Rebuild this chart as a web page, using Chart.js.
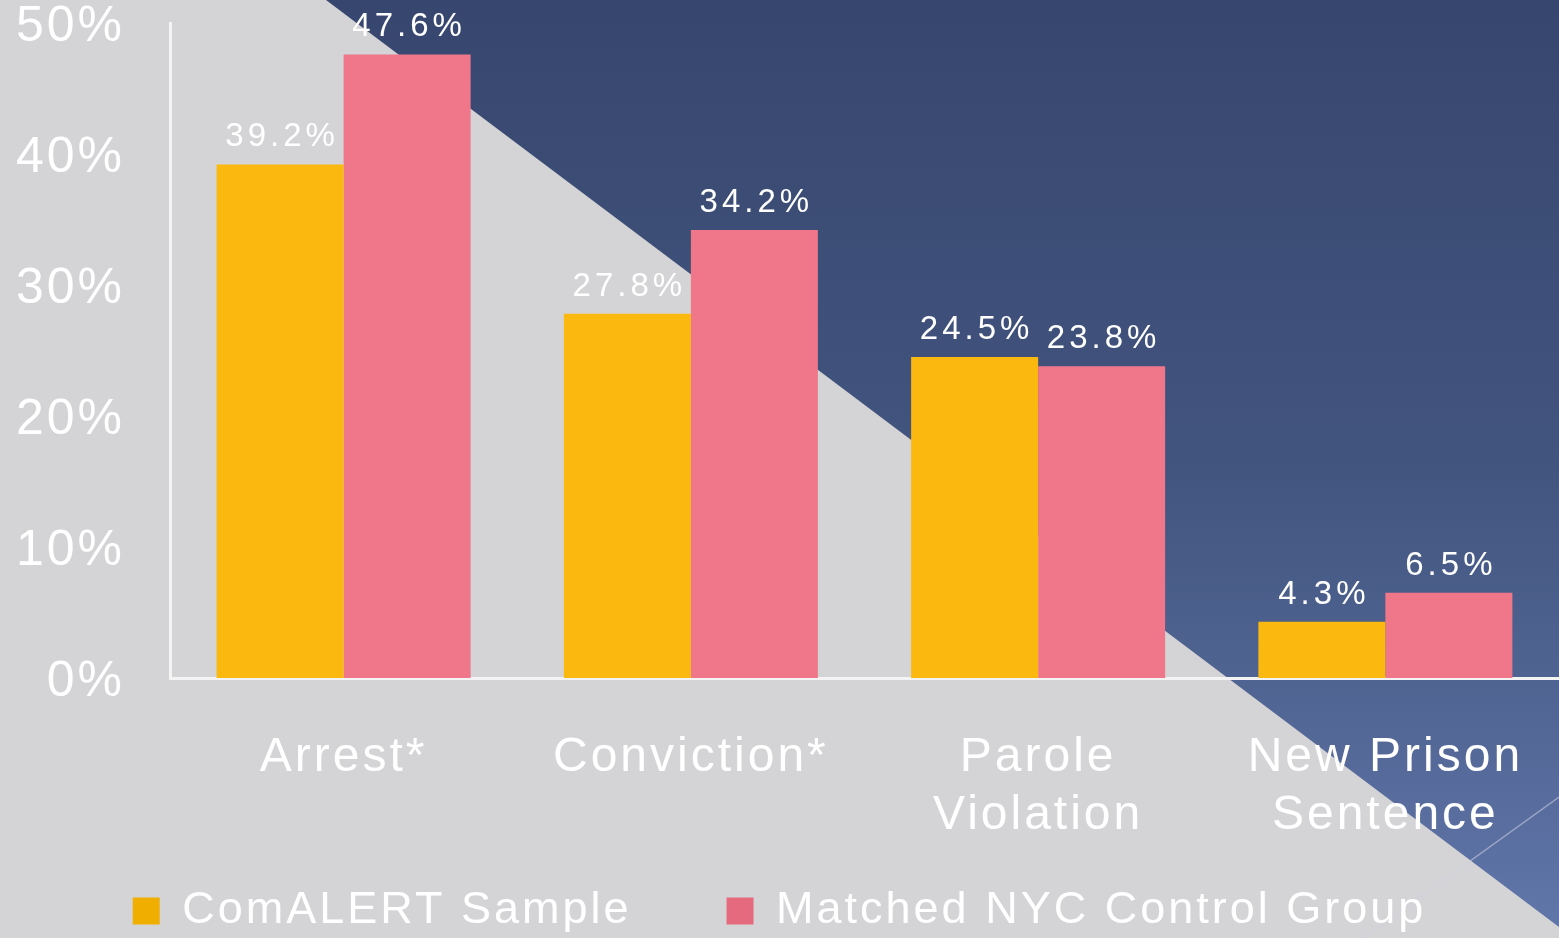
<!DOCTYPE html>
<html lang="en">
<head>
  <meta charset="UTF-8" />
  <title>ComALERT Recidivism Outcomes</title>
  <style>
    * { margin: 0; padding: 0; box-sizing: border-box; }
    body { background: #d4d4d6; overflow: hidden; }
    .chart-box { width: 1559px; height: 938px; position: relative; }
  </style>
</head>
<body>
  <div class="chart-box">
    <canvas id="outcomeChart"></canvas>
  </div>
  <script src="https://cdn.jsdelivr.net/npm/chart.js"></script>
  <script>
    // categories and values (percent)
    const categories = ["Arrest*", "Conviction*", ["Parole", "Violation"], ["New Prison", "Sentence"]];
    const comalertValues = [39.2, 27.8, 24.5, 4.3];
    const controlValues = [47.6, 34.2, 23.8, 6.5];
    const seriesNames = ["ComALERT Sample", "Matched NYC Control Group"];
    const yTicks = [0, 10, 20, 30, 40, 50];

    const FONT = "'Liberation Sans', Arial, sans-serif";
    const barColors = ["#fbb80e", "#f07789"];
    const legendColors = ["#f0ae00", "#e56a7e"];

    // slide background: grey with a navy diagonal wedge on the right
    const backdrop = {
      id: "backdrop",
      beforeUpdate(chart) { chart.ctx.letterSpacing = "3px"; },
      beforeDraw(chart) {
        const ctx = chart.ctx;
        const w = chart.width, h = chart.height;
        ctx.save();
        ctx.fillStyle = "#d4d4d6";
        ctx.fillRect(0, 0, w, h);
        const grad = ctx.createLinearGradient(0, 0, 0, h);
        grad.addColorStop(0, "#37466e");
        grad.addColorStop(0.5, "#42557f");
        grad.addColorStop(1, "#6176aa");
        ctx.fillStyle = grad;
        ctx.beginPath();
        ctx.moveTo(326, 0);
        ctx.lineTo(w, 0);
        ctx.lineTo(w, 927);
        ctx.closePath();
        ctx.fill();
        ctx.strokeStyle = "rgba(205,210,225,0.55)";
        ctx.lineWidth = 1.5;
        ctx.beginPath();
        ctx.moveTo(1363, h);
        ctx.lineTo(w, 797);
        ctx.stroke();
        ctx.restore();
        ctx.letterSpacing = "3px";
      }
    };

    // value labels above each bar
    const valueLabels = {
      id: "valueLabels",
      afterDatasetsDraw(chart) {
        const ctx = chart.ctx;
        ctx.save();
        ctx.font = "33px " + FONT;
        ctx.letterSpacing = "4px";
        ctx.fillStyle = "#ffffff";
        ctx.textAlign = "center";
        ctx.textBaseline = "alphabetic";
        chart.data.datasets.forEach((ds, i) => {
          chart.getDatasetMeta(i).data.forEach((bar, j) => {
            ctx.fillText(ds.data[j].toFixed(1) + "%", bar.x + 2, bar.y - 18);
          });
        });
        ctx.restore();
      }
    };

    new Chart(document.getElementById("outcomeChart"), {
      type: "bar",
      data: {
        labels: categories,
        datasets: [
          { label: seriesNames[0], data: comalertValues, backgroundColor: barColors[0] },
          { label: seriesNames[1], data: controlValues, backgroundColor: barColors[1] }
        ]
      },
      options: {
        responsive: true,
        maintainAspectRatio: false,
        animation: false,
        events: [],
        categoryPercentage: 0.7315,
        barPercentage: 1,
        layout: { padding: { top: 23, right: 0, bottom: -5.5, left: 0 } },
        scales: {
          x: {
            grid: { display: false, drawTicks: false },
            border: { color: "#f4f4f4", width: 3 },
            ticks: {
              color: "#ffffff",
              padding: 51,
              maxRotation: 0,
              autoSkip: false,
              font: { family: FONT, size: 48, lineHeight: 1.2 }
            },
            afterFit(scale) {
              scale.height = 162;
              scale.paddingLeft = 0;
              scale.paddingRight = 0;
            }
          },
          y: {
            min: 0,
            max: 50,
            grid: { display: false, drawTicks: false },
            border: { color: "#f4f4f4", width: 3 },
            afterBuildTicks(scale) { scale.ticks = yTicks.map(v => ({ value: v })); },
            ticks: {
              color: "#ffffff",
              padding: 45,
              labelOffset: 4,
              font: { family: FONT, size: 50, lineHeight: 1 },
              callback: v => v + "%"
            },
            afterFit(scale) {
              scale.width = 170;
              scale.paddingTop = 0;
              scale.paddingBottom = 0;
            }
          }
        },
        plugins: {
          legend: {
            display: true,
            position: "bottom",
            labels: {
              color: "#ffffff",
              boxWidth: 27,
              boxHeight: 27,
              padding: 48.5,
              font: { family: FONT, size: 45 },
              generateLabels(chart) {
                // trailing spaces widen the gap between the two entries
                return chart.data.datasets.map((ds, i) => ({
                  text: i === 0 ? ds.label + "   " : ds.label,
                  fillStyle: legendColors[i],
                  strokeStyle: legendColors[i],
                  lineWidth: 0,
                  fontColor: "#ffffff",
                  datasetIndex: i
                }));
              }
            }
          },
          tooltip: { enabled: false }
        }
      },
      plugins: [backdrop, valueLabels]
    });
  </script>
</body>
</html>
